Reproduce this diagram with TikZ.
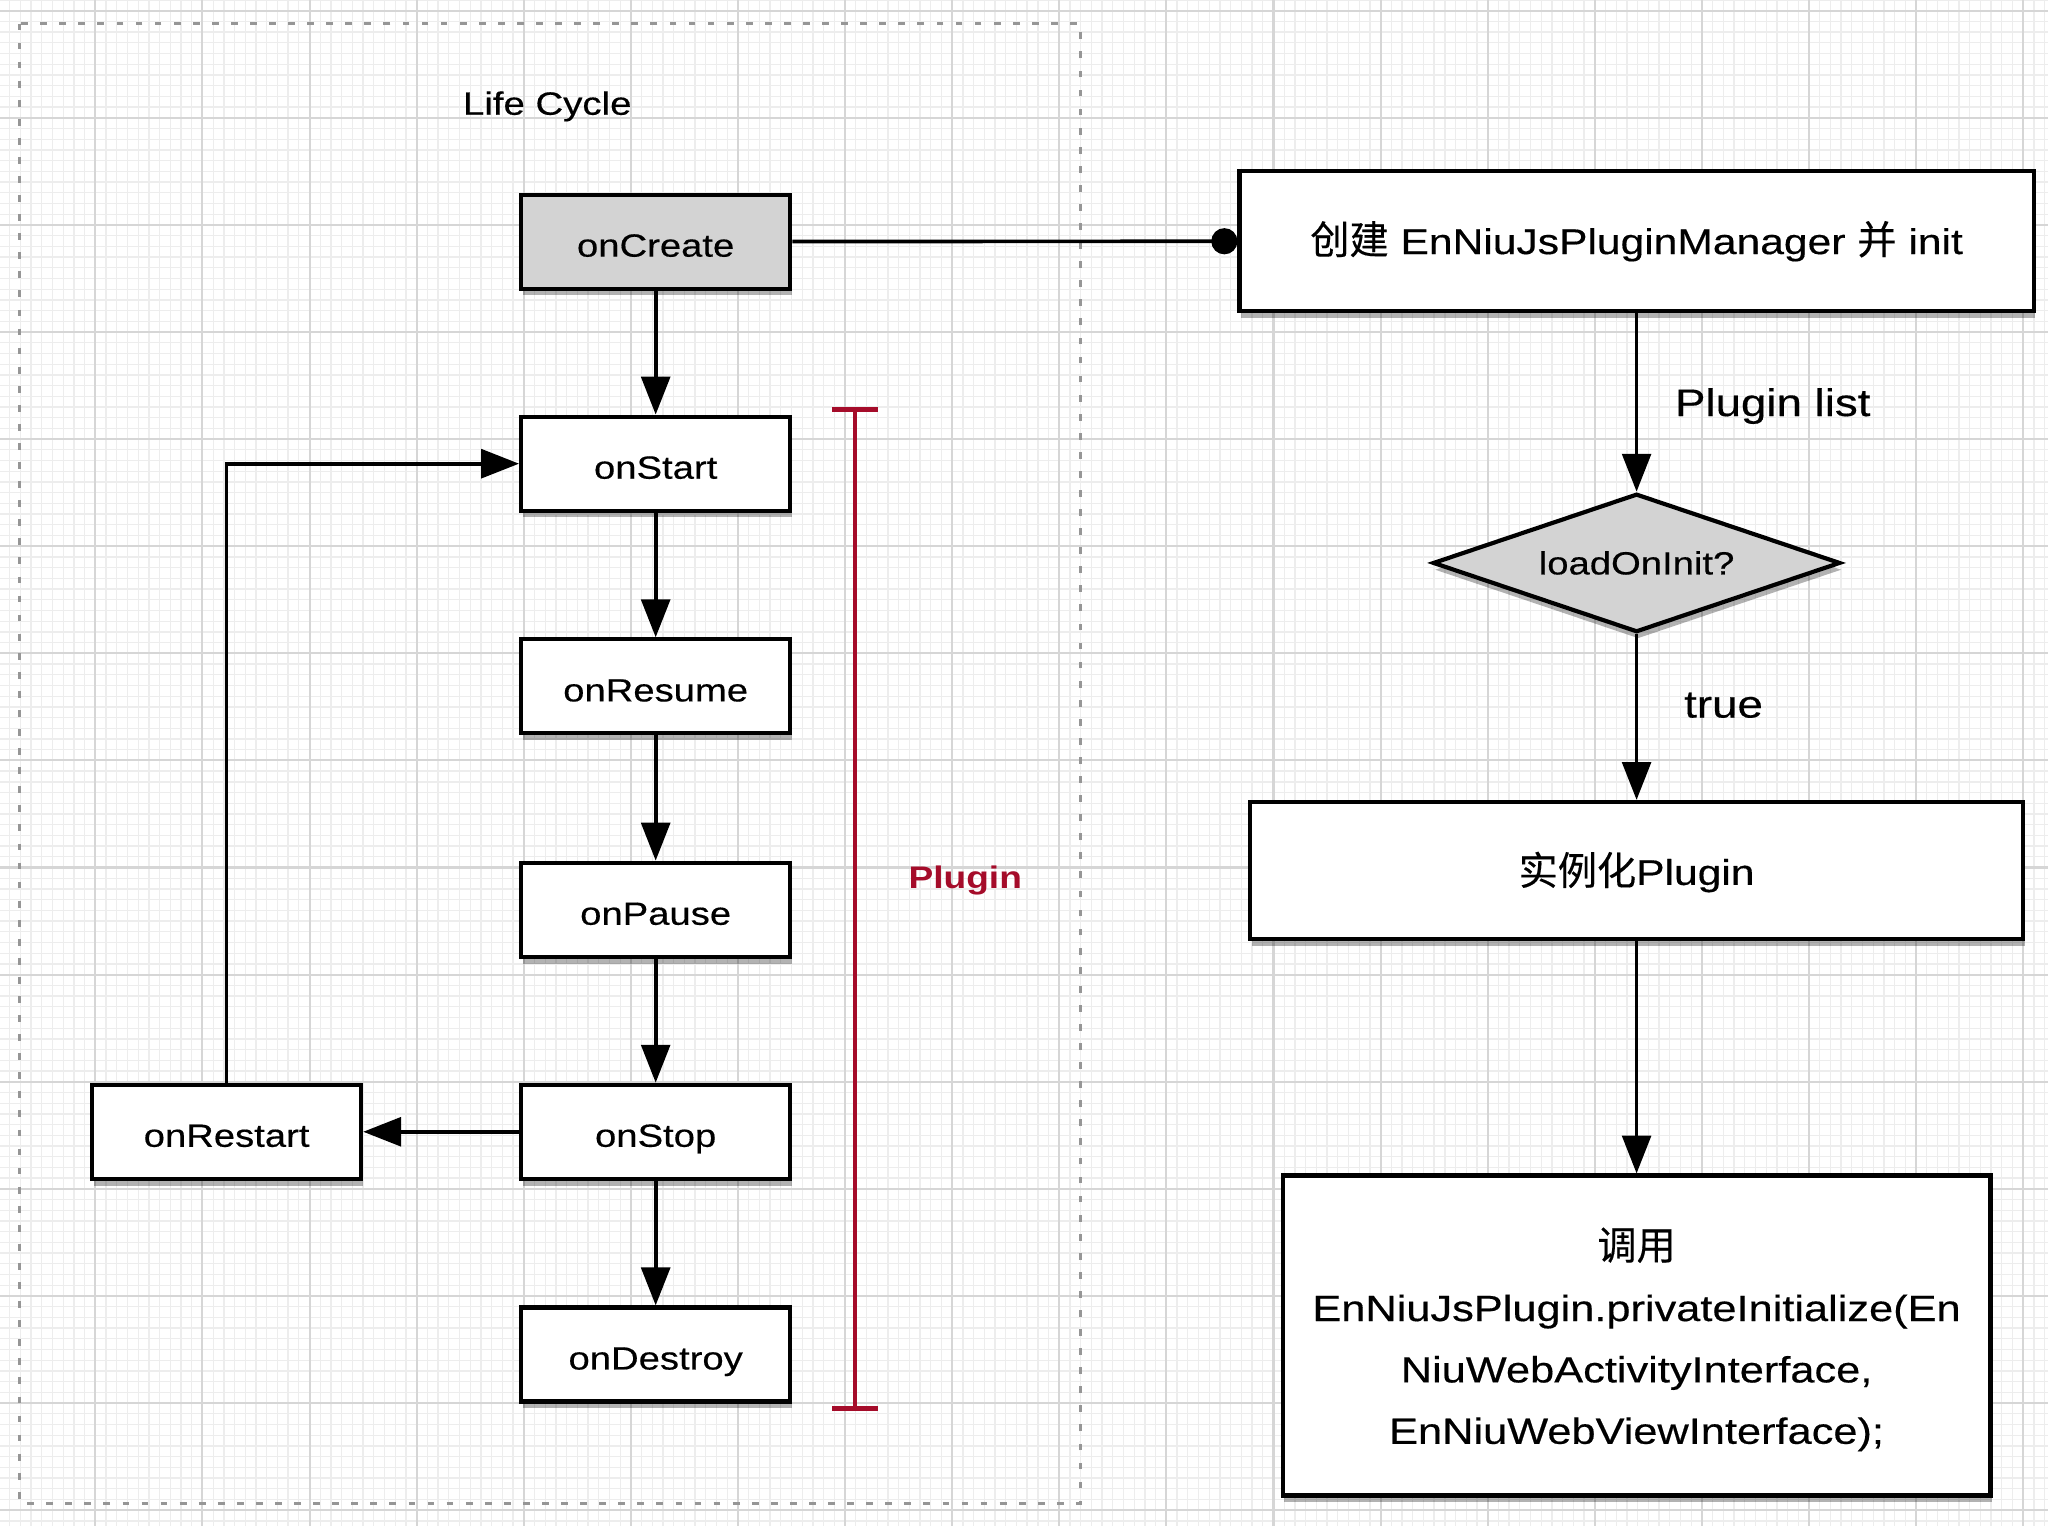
\documentclass[tikz,border=0pt]{standalone}
\usepackage{fontspec}
\setmainfont{Liberation Sans}[FakeStretch=1.19,UprightFeatures={FakeBold=0.4}]
\newfontfamily\cjk{Noto Sans CJK SC}[FakeBold=0.3]
\newcommand\cjt[1]{{\cjk\fontsize{15}{18}\selectfont #1}}
\usetikzlibrary{arrows.meta,shapes.geometric,shadows}
\definecolor{plugred}{RGB}{165,12,42}
\definecolor{boxgrey}{RGB}{211,211,211}
\definecolor{minorc}{RGB}{237,237,237}
\definecolor{majorc}{RGB}{214,214,214}
\definecolor{dashc}{RGB}{150,150,150}
\begin{document}
\begin{tikzpicture}[x=0.5pt,y=-0.5pt,
  shadowed/.style={drop shadow={shadow xshift=0.6pt,shadow yshift=-2.6pt,opacity=0.3,fill=black}},
  lbox/.style={draw=black,line width=1.6pt,fill=white,minimum width=103pt,minimum height=36pt,inner sep=0pt,text height=11.5pt,text depth=0pt,font=\fontsize{12.3}{15}\selectfont,shadowed},
  rbox/.style={draw=black,line width=1.6pt,fill=white,inner sep=0pt,text depth=0pt,font=\fontsize{13.7}{17}\selectfont,shadowed},
  conn/.style={line width=1.4pt,-{Triangle[length=14.5pt,width=11pt]}},
  edgelabel/.style={inner sep=0pt,text height=10.5pt,text depth=0pt,font=\fontsize{14.7}{18}\selectfont},
  minorline/.style={minorc,line width=0.5pt},
  majorline/.style={majorc,line width=0.8pt},
  dashbox/.style={dashc,line width=1.2pt,dash pattern=on 2.6pt off 4.7pt}
]
\useasboundingbox (0,0) rectangle (1568,1168);
\fill[white] (0,0) rectangle (1568,1168);
% grid
\foreach \i in {0,...,190} {\draw[minorline] ({7.4+8.2*\i},0) -- ({7.4+8.2*\i},1168);}
\foreach \i in {0,...,142} {\draw[minorline] (0,{8.2*\i}) -- (1568,{8.2*\i});}
\foreach \i in {0,...,18} {\draw[majorline] ({73+82*\i},0) -- ({73+82*\i},1168);}
\foreach \i in {0,...,14} {\draw[majorline] (0,{8.2+82*\i}) -- (1568,{8.2+82*\i});}
% life cycle frame
\draw[dashbox] (15,18) rectangle (827,1151);
\node[inner sep=0pt,text height=8.85pt,text depth=0pt,font=\fontsize{12.35}{15}\selectfont] (lc) at (419,79) {Life Cycle};
% left column
\node[lbox,fill=boxgrey] (create) at (502,185) {onCreate};
\node[lbox] (start) at (502,355) {onStart};
\node[lbox] (resume) at (502,525.5) {onResume};
\node[lbox] (pause) at (502,696.5) {onPause};
\node[lbox] (stop) at (502,866.5) {onStop};
\node[lbox] (destroy) at (502,1037) {onDestroy};
\node[lbox] (restart) at (173.5,866.5) {onRestart};
% right column
\node[rbox,text height=10pt,minimum width=304pt,minimum height=53.5pt] (mgr) at (1253,184.5) {\cjt{创建} EnNiuJsPluginManager \cjt{并} init};
\node[diamond,aspect=2.94,draw=black,line width=1.6pt,fill=boxgrey,minimum width=156pt,minimum height=53pt,inner sep=0pt,text height=8.8pt,text depth=0pt,font=\fontsize{12.3}{15}\selectfont,shadowed] (load) at (1253,431) {loadOnInit?};
\node[rbox,text height=11pt,minimum width=296pt,minimum height=52.5pt] (inst) at (1253,666.5) {\cjt{实例化}Plugin};
\node[rbox,minimum width=271pt,minimum height=122.5pt] (call) at (1253,1022.5) {};
\node[align=center,inner sep=0pt,font=\fontsize{13.95}{23.5}\selectfont] (calltext) at (1253,1025.5) {\cjt{调用}\\EnNiuJsPlugin.privateInitialize(En\\NiuWebActivityInterface,\\EnNiuWebViewInterface);};
% plugin bracket
\coordinate (brt) at (654.5,311.5);
\coordinate (brb) at (654.5,1080.5);
\draw[plugred,line width=1.3pt,{Bar[width=17.5pt,line width=2pt]}-{Bar[width=17.5pt,line width=2pt]}] (brt) -- (brb);
\node[text=plugred,inner sep=0pt,text height=8.5pt,text depth=0pt,font=\bfseries\fontsize{11.93}{15}\selectfont] (plug) at (739,671.5) {Plugin};
% connectors
\draw[conn] (create) -- (start);
\draw[conn] (start) -- (resume);
\draw[conn] (resume) -- (pause);
\draw[conn] (pause) -- (stop);
\draw[conn] (stop) -- (destroy);
\draw[conn] (stop) -- (restart);
\draw[conn] (restart.north) |- (start.west);
\draw[line width=1.4pt,-{Circle[length=10pt]}] (create) -- (mgr);
\draw[conn] (mgr) -- node[right=14pt,edgelabel] {Plugin list} (load);
\draw[conn] (load) -- node[pos=0.42,right=17.5pt,edgelabel] {true} (inst);
\draw[conn] (inst) -- (call);
\end{tikzpicture}
\end{document}
